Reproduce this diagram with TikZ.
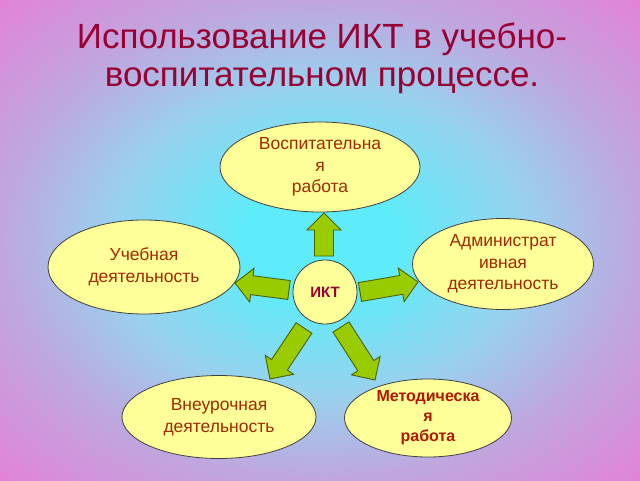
\documentclass[tikz,border=0pt]{standalone}
\usepackage{fontspec}
\setmainfont{Liberation Sans}
\usetikzlibrary{calc,shapes.geometric}
\definecolor{cyanc}{HTML}{5EECFA}
\definecolor{bluec}{HTML}{98D2EE}
\definecolor{lavc}{HTML}{C0A6DE}
\definecolor{pinkm}{HTML}{DE88D8}
\definecolor{pinkc}{HTML}{FF5CC8}
\definecolor{titlec}{HTML}{990033}
\definecolor{txtc}{HTML}{A02A00}
\definecolor{boldc}{HTML}{B01800}
\definecolor{ellf}{HTML}{FFFF99}
\definecolor{arrf}{HTML}{99CC00}
\definecolor{arrd}{HTML}{4F6000}
\pgfdeclareradialshading{bgshade}{\pgfpoint{0bp}{0bp}}{%
 color(0bp)=(cyanc); color(6bp)=(cyanc); color(16bp)=(bluec); color(25bp)=(lavc);
 color(34bp)=(pinkm); color(45bp)=(pinkc); color(100bp)=(pinkc)}
\tikzset{
 ell/.style={ellipse, draw=black!75, line width=0.8pt, fill=ellf, align=center,
   font=\fontsize{17.5}{21.5}\selectfont, text=txtc, inner sep=0pt},
 barrow/.style={draw=arrd, line width=0.9pt, fill=arrf, line join=miter},
}
\newcommand{\blockarr}[2]{%
 \coordinate (#1-h) at ($(#2)!17pt!(#1)$);
 \draw[barrow] ($(#1)!9.5pt!90:(#2)$) -- ($(#1-h)!9.5pt!90:(#2)$) -- ($(#1-h)!17pt!90:(#2)$) -- (#2)
   -- ($(#1-h)!17pt!-90:(#2)$) -- ($(#1-h)!9.5pt!-90:(#2)$) -- ($(#1)!9.5pt!-90:(#2)$) -- cycle;}
\begin{document}
\begin{tikzpicture}[x=1pt,y=-1pt]
\useasboundingbox (0,0) rectangle (640,480);
\shade[shading=bgshade] (0,0) rectangle (640,480);
\node[text=titlec, font=\fontsize{35}{38}\selectfont, align=center] (title) at (322,58)
 {Использование ИКТ в учебно-\\воспитательном процессе.};
\node[ell, minimum width=200pt, minimum height=90pt] (top) at (320,167)
 {Воспитательна\\я\\работа};
\node[ell, minimum width=192pt, minimum height=94pt] (left) at (144,267)
 {Учебная\\деятельность};
\node[ell, minimum width=181pt, minimum height=91pt] (right) at (503,264)
 {Администрат\\ивная\\деятельность};
\node[ell, minimum width=194pt, minimum height=83pt] (bl) at (219,417)
 {Внеурочная\\деятельность};
\node[ell, minimum width=167pt, minimum height=78pt, font=\fontsize{16}{20}\selectfont\bfseries, text=boldc] (br) at (428,418)
 {Методическа\\я\\работа};
\node[ell, minimum width=64pt, minimum height=64pt, font=\fontsize{15}{18}\selectfont\bfseries, text=titlec] (ikt) at (325,292) {ИКТ};
\coordinate (u0) at (324,256); \coordinate (u1) at (324,213);
\coordinate (l0) at (289,290); \coordinate (l1) at (235,283);
\coordinate (r0) at (360,292); \coordinate (r1) at (418,282);
\coordinate (d0) at (304,328); \coordinate (d1) at (270,379);
\coordinate (e0) at (341,327); \coordinate (e1) at (375,380);
\blockarr{u0}{u1}
\blockarr{l0}{l1}
\blockarr{r0}{r1}
\blockarr{d0}{d1}
\blockarr{e0}{e1}
\end{tikzpicture}
\end{document}
